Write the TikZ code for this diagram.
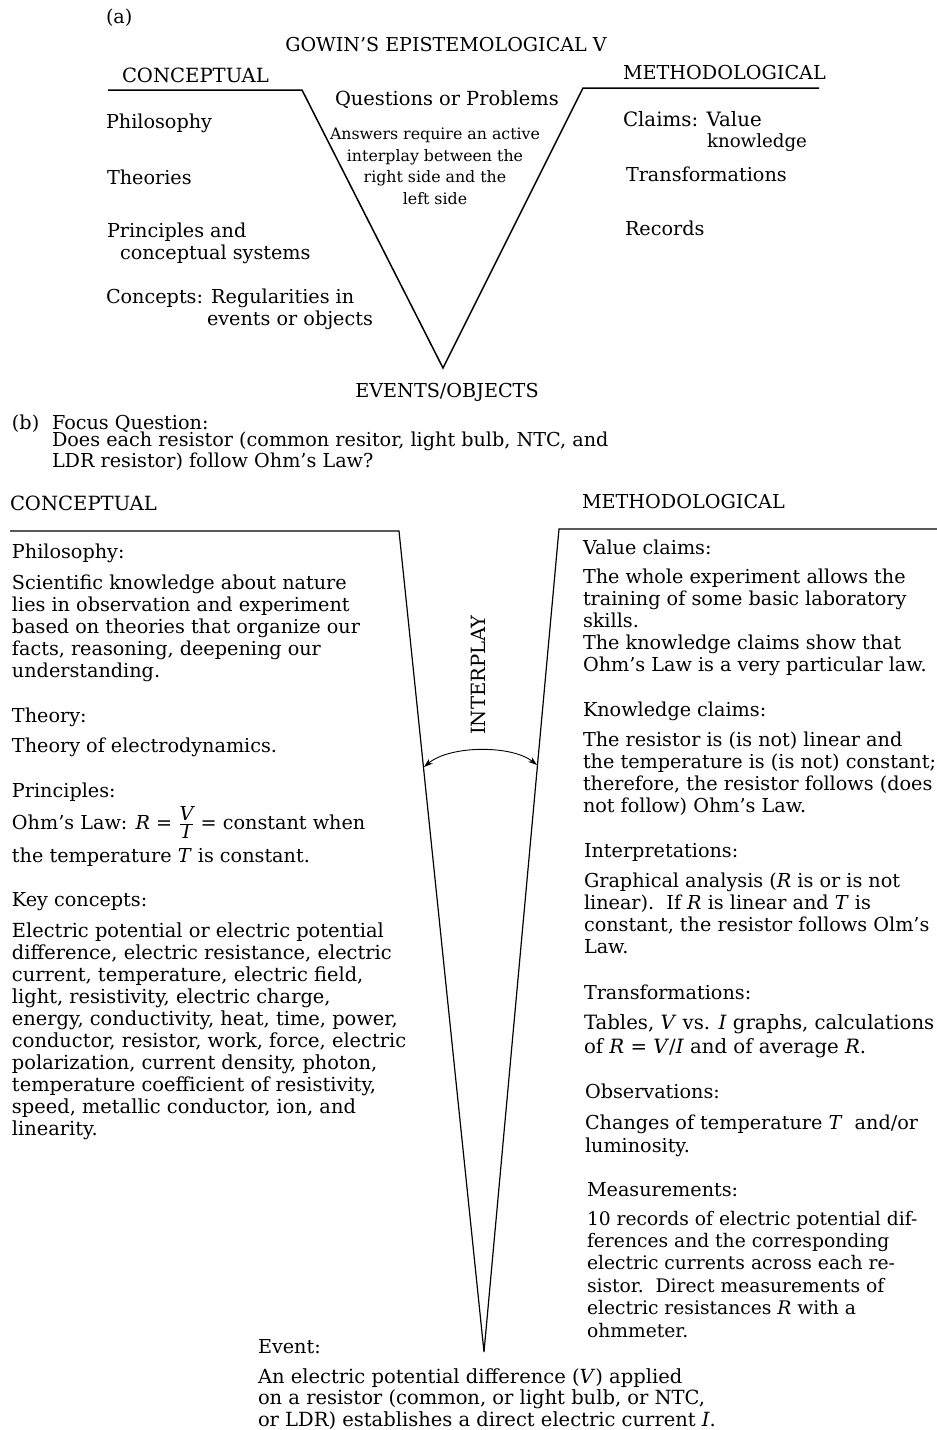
\documentclass[tikz,border=0pt]{standalone}
\usepackage{fontspec}
\setmainfont{DejaVu Serif}
\usetikzlibrary{arrows.meta}

\newcommand{\bodyfont}{\fontsize{19.2}{22}\selectfont}
\newcommand{\notefont}{\fontsize{15.8}{21.5}\selectfont}
\newcommand{\vr}[1]{\textit{#1}}

\begin{document}
\begin{tikzpicture}[x=1pt,y=-1pt,
  % multi-line nodes are placed by the baseline of their last line
  txt/.style={anchor=base west, inner sep=0pt, outer sep=0pt, align=left, font=\bodyfont},
  ctxt/.style={txt, anchor=base},
  note/.style={anchor=base, inner sep=0pt, outer sep=0pt, align=center, font=\notefont},
  vline/.style={line width=1.5pt, line join=miter},
  vlineb/.style={line width=1.2pt, line join=miter},
  interplay/.style={line width=0.9pt, {Stealth[length=9pt,width=6pt]}-{Stealth[length=9pt,width=6pt]}}
]
\useasboundingbox (0,0) rectangle (937,1430);

% ---------------- (a) Gowin's V ----------------
\node[txt] (lbla) at (106,23) {(a)};
\node[ctxt, font=\fontsize{19.1}{22}\selectfont] (title) at (446,51) {GOWIN’S EPISTEMOLOGICAL V};
\node[txt, font=\fontsize{19.6}{22}\selectfont] (concA) at (122,82) {CONCEPTUAL};
\node[txt] (methA) at (623,79) {METHODOLOGICAL};
\node[txt, font=\fontsize{19.4}{22}\selectfont] (quest) at (335,105) {Questions or Problems};
\node[note] (answ) at (435,204) {Answers require an active\\interplay between the\\right side and the\\left side};

\node[txt] (philA) at (106,128) {Philosophy};
\node[txt] (theoA) at (107,184) {Theories};
\node[txt] (prinA) at (107,237) {Principles and};
\node[txt] (prinB) at (120,259) {conceptual systems};
\node[txt] (concpA) at (106,303) {Concepts: Regularities in};
\node[txt] (concpB) at (207,325) {events or objects};

\node[txt, font=\fontsize{19.8}{22}\selectfont] (claimA) at (623,126) {Claims: Value};
\node[txt, font=\fontsize{18.2}{22}\selectfont] (claimB) at (707,147) {knowledge};
\node[txt] (transA) at (626,181) {Transformations};
\node[txt] (recA) at (625,235) {Records};
\node[ctxt] (eventsA) at (447,397) {EVENTS/OBJECTS};

\coordinate (aL) at (108,90);
\coordinate (aLc) at (302,90);
\coordinate (aTip) at (443,368);
\coordinate (aRc) at (583,88);
\coordinate (aR) at (819,88);
\draw[vline] (aL) -- (aLc) -- (aTip) -- (aRc) -- (aR);

% ---------------- (b) Focus question ----------------
\node[txt] (lblb) at (12,429) {(b)};
\node[txt] (fq) at (52,429) {Focus Question:};
\node[txt] (fqA) at (52,446) {Does each resistor (common resitor, light bulb, NTC, and};
\node[txt] (fqB) at (52,467) {LDR resistor) follow Ohm’s Law?};

\node[txt, font=\fontsize{19.6}{22}\selectfont] (concB) at (10,510) {CONCEPTUAL};
\node[txt] (methB) at (582,508) {METHODOLOGICAL};

% the V of part (b)
\coordinate (bL) at (10,531);
\coordinate (bLc) at (399,531);
\coordinate (bTip) at (484,1352);
\coordinate (bRc) at (559,529);
\coordinate (bR) at (937,529);
\draw[vlineb] (bL) -- (bLc) -- (bTip) -- (bRc) -- (bR);

% interplay arrow between the two arms
\coordinate (ipL) at (424,767);
\coordinate (ipR) at (537,765);
\draw[interplay] (ipL) .. controls (450,745) and (512,745) .. (ipR);
\node[ctxt, anchor=center, rotate=90, font=\fontsize{19.6}{22}\selectfont] (inter) at (478,675) {INTERPLAY};

% conceptual side
\node[txt] (phil) at (12,558) {Philosophy:};
\node[txt] (philT) at (12,677) {Scientific knowledge about nature\\lies in observation and experiment\\based on theories that organize our\\facts, reasoning, deepening our\\understanding.};
\node[txt] (theo) at (12,722) {Theory:};
\node[txt] (theoT) at (12,752) {Theory of electrodynamics.};
\node[txt] (prin) at (12,797) {Principles:};
\node[txt] (prinT) at (12,829) {Ohm’s Law: \vr{R} = $\frac{\vr{V}}{\vr{I}}$ = constant when};
\node[txt] (prinU) at (12,862) {the temperature \vr{T} is constant.};
\node[txt] (key) at (12,906) {Key concepts:};
\node[txt, font=\fontsize{19.4}{21.9}\selectfont] (keyT) at (12,1135) {Electric potential or electric potential\\difference, electric resistance, electric\\current, temperature, electric field,\\light, resistivity, electric charge,\\energy, conductivity, heat, time, power,\\conductor, resistor, work, force, electric\\polarization, current density, photon,\\temperature coefficient of resistivity,\\speed, metallic conductor, ion, and\\linearity.};

% methodological side
\node[txt] (value) at (583,554) {Value claims:};
\node[txt] (valueT) at (583,671) {The whole experiment allows the\\training of some basic laboratory\\skills.\\The knowledge claims show that\\Ohm’s Law is a very particular law.};
\node[txt] (know) at (583,716) {Knowledge claims:};
\node[txt] (knowT) at (583,812) {The resistor is (is not) linear and\\the temperature is (is not) constant;\\therefore, the resistor follows (does\\not follow) Ohm’s Law.};
\node[txt] (interp) at (584,857) {Interpretations:};
\node[txt] (interpT) at (584,953) {Graphical analysis (\vr{R} is or is not\\linear).\ \ If \vr{R} is linear and \vr{T} is\\constant, the resistor follows Olm’s\\Law.};
\node[txt] (transf) at (584,999) {Transformations:};
\node[txt, font=\fontsize{19.7}{24}\selectfont] (transfT) at (584,1053) {Tables, \vr{V} vs. \vr{I} graphs, calculations\\of \vr{R} = \vr{V}/\vr{I} and of average \vr{R}.};
\node[txt] (obs) at (585,1098) {Observations:};
\node[txt, font=\fontsize{19.2}{23}\selectfont] (obsT) at (585,1152) {Changes of temperature \vr{T}\ \ and/or\\luminosity.};
\node[txt] (meas) at (587,1196) {Measurements:};
\node[txt, font=\fontsize{18.7}{22.4}\selectfont] (measT) at (587,1337) {10 records of electric potential dif-\\ferences and the corresponding\\electric currents across each re-\\sistor.\ \ Direct measurements of\\electric resistances \vr{R} with a\\ohmmeter.};

% event at the tip
\node[txt] (event) at (258,1353) {Event:};
\node[txt, font=\fontsize{19.5}{21.5}\selectfont] (eventT) at (258,1426) {An electric potential difference (\vr{V}) applied\\on a resistor (common, or light bulb, or NTC,\\or LDR) establishes a direct electric current \vr{I}.};
\end{tikzpicture}
\end{document}
